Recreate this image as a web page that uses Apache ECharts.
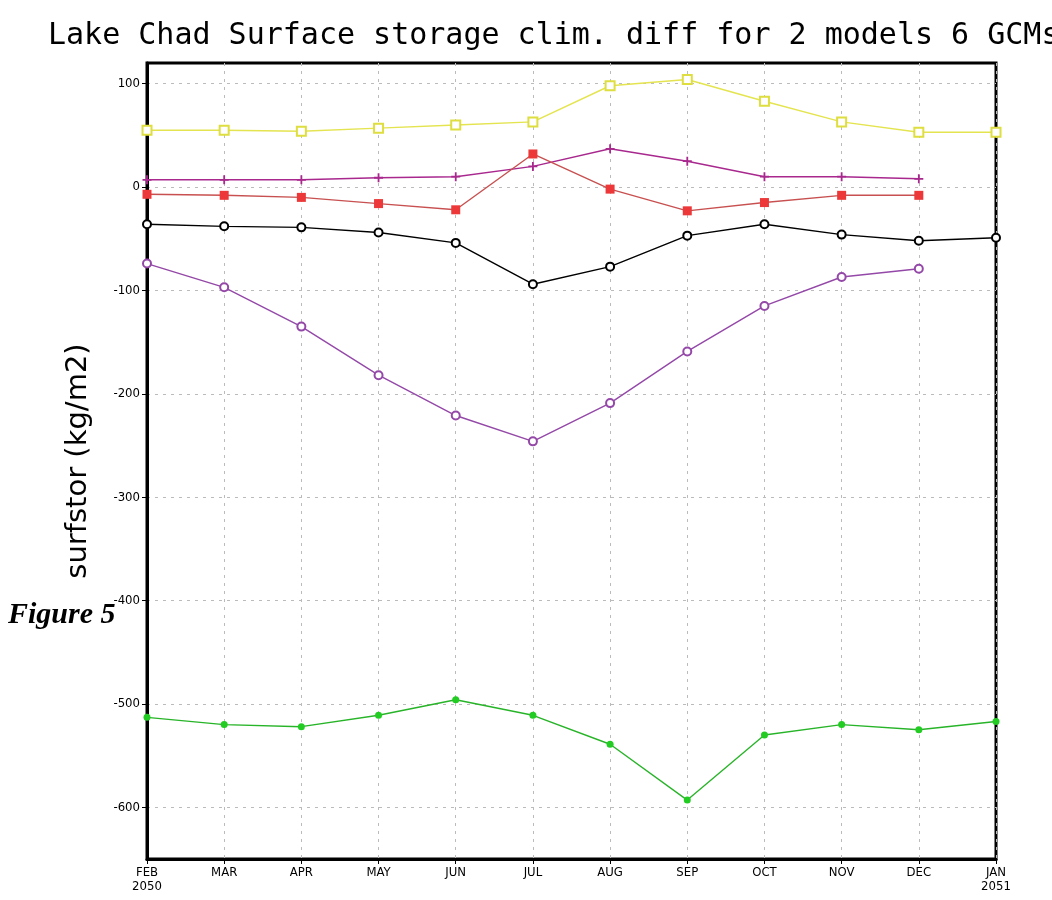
<!DOCTYPE html>
<html>
<head>
<meta charset="utf-8">
<script src="https://cdn.jsdelivr.net/npm/echarts@6/dist/echarts.min.js"></script>
<style>html,body{margin:0;padding:0;background:#fff;}#c{width:1052px;height:900px;}</style>
</head>
<body>
<div id="c"></div>
<script>
const months = ['FEB\n2050','MAR','APR','MAY','JUN','JUL','AUG','SEP','OCT','NOV','DEC','JAN\n2051'];
const yTicks = [-600,-500,-400,-300,-200,-100,0,100];
const yellowSq = [55, 55, 54, 57, 60, 63, 98, 104, 83, 63, 53, 53];
const magentaPlus = [7, 7, 7, 9, 10, 20, 37, 25, 10, 10, 8, null];
const redSq = [-7, -8, -10, -16, -22, 32, -2, -23, -15, -8, -8, null];
const blackCirc = [-36, -38, -39, -44, -54, -94, -77, -47, -36, -46, -52, -49];
const violetCirc = [-74, -97, -135, -182, -221, -246, -209, -159, -115, -87, -79, null];
const greenDot = [-513, -520, -522, -511, -496, -511, -539, -593, -530, -520, -525, -517];

const labelFont = '"Liberation Sans Narrow","DejaVu Sans Condensed","Liberation Sans",sans-serif';
const chart = echarts.init(document.getElementById('c'), null, {renderer:'canvas'});
function line(data, lineColor, symbol, size, itemStyle){
  return {type:'line', data:data, symbol:symbol, symbolSize:size, showAllSymbol:true,
    lineStyle:{color:lineColor, width:1.4}, itemStyle:itemStyle, connectNulls:false, animation:false};
}
chart.setOption({
  animation:false,
  title:{text:'Lake Chad Surface storage clim. diff for 2 models 6 GCMs', left:43, top:16,
    textStyle:{fontFamily:'"DejaVu Sans Mono",monospace', fontWeight:'normal', fontSize:30, color:'#000'}},
  grid:{left:147, right:56, top:63, bottom:41, show:true, borderColor:'#000', borderWidth:3, backgroundColor:'#fff'},
  xAxis:{type:'category', data:months, boundaryGap:false,
    axisLine:{onZero:false, lineStyle:{color:'#000', width:3}},
    axisTick:{show:true, length:5, lineStyle:{color:'#000', width:1}},
    axisLabel:{color:'#000', fontSize:13, fontFamily:labelFont, margin:7, lineHeight:14, interval:0},
    splitLine:{show:true, lineStyle:{color:'#bbbbbb', type:[3,5], width:1}}},
  yAxis:{type:'value', min:-650, max:120,
    name:'surfstor (kg/m2)', nameLocation:'middle', nameGap:54, nameRotate:90,
    nameTextStyle:{fontFamily:'"DejaVu Sans",sans-serif', fontSize:29, color:'#000'},
    axisLine:{show:true, lineStyle:{color:'#000', width:3}},
    axisTick:{show:true, length:5, customValues:yTicks, lineStyle:{color:'#000'}},
    axisLabel:{customValues:yTicks, color:'#000', fontSize:13, fontFamily:labelFont, margin:7},
    splitLine:{show:true, lineStyle:{color:'#bbbbbb', type:[3,5], width:1}}},
  series:[
    line(yellowSq, '#e4e450', 'emptyRect', 9, {color:'#dede40', borderWidth:1.4}),
    line(magentaPlus, '#a8288e', 'path://M4,0h2v4h4v2h-4v4h-2v-4h-4v-2h4z', 9, {color:'#a8288e'}),
    line(redSq, '#c85050', 'rect', 9, {color:'#ec3838'}),
    line(blackCirc, '#000000', 'emptyCircle', 8, {color:'#000', borderWidth:1.4}),
    line(violetCirc, '#9448a8', 'emptyCircle', 8, {color:'#9448a8', borderWidth:1.4}),
    line(greenDot, '#28b428', 'circle', 7, {color:'#22cc22'})
  ],
  graphic:[{type:'text', left:8, top:600, style:{text:'Figure 5', fill:'#000',
    font:'italic bold 30px "Liberation Serif","Times New Roman",serif'}}]
});
</script>
</body>
</html>
